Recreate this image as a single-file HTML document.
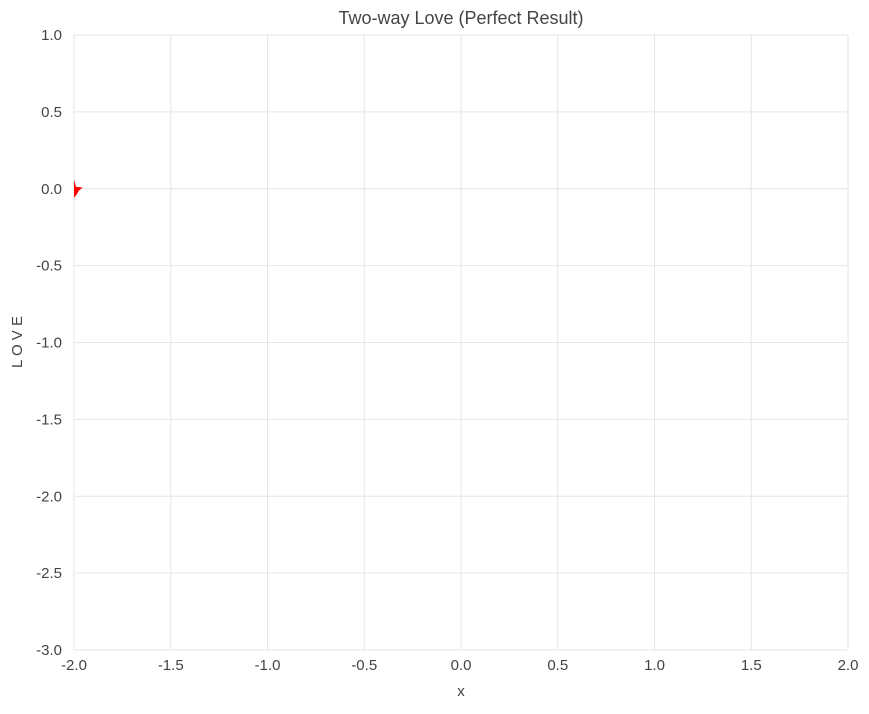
<!DOCTYPE html>
<html><head><meta charset="utf-8"><style>
body{margin:0;background:#fff}
svg text{font-family:"Liberation Sans",sans-serif;fill:#444}
</style></head><body>
<svg id="c" width="869" height="709"></svg>
<script>
const xTicks=[-2.0,-1.5,-1.0,-0.5,0.0,0.5,1.0,1.5,2.0];
const yTicks=[1.0,0.5,0.0,-0.5,-1.0,-1.5,-2.0,-2.5,-3.0];
const heartX=[-2.0,-1.993,-1.99,-1.955,-1.975,-1.985,-2.0];
const heartY=[0.06,0.03,0.012,0.008,-0.012,-0.035,-0.06];
const svg=document.getElementById('c');
const NS='http://www.w3.org/2000/svg';
const X0=74,X1=848,Y0=35,Y1=650;
const sx=v=>X0+(v+2)/4*(X1-X0);
const sy=v=>Y0+(1-v)/4*(Y1-Y0);
function mk(t,a,p){const e=document.createElementNS(NS,t);for(const k in a)e.setAttribute(k,a[k]);(p||svg).appendChild(e);return e;}
xTicks.forEach(v=>{
 const l=mk('line',{x1:sx(v),x2:sx(v),y1:Y0,y2:Y1,stroke:'#e6e6e6'});
 
 
 const t=mk('text',{x:sx(v),y:Y1+20,'text-anchor':'middle','font-size':15});
 t.textContent=v.toFixed(1);
 
 
});
yTicks.forEach(v=>{
 const l=mk('line',{x1:X0,x2:X1,y1:sy(v),y2:sy(v),stroke:'#e6e6e6'});
 
 
 const t=mk('text',{x:X0-12,y:sy(v)+5,'text-anchor':'end','font-size':15});
 t.textContent=v.toFixed(1);
 
 
});
const pts=heartX.map((x,i)=>sx(x)+','+sy(heartY[i])).join(' ');
const h=mk('polygon',{points:pts,fill:'#ff0000'});


const ti=mk('text',{x:461,y:24,'text-anchor':'middle','font-size':18});
ti.textContent='Two-way Love (Perfect Result)';


const xl=mk('text',{x:461,y:696,'text-anchor':'middle','font-size':15});
xl.textContent='x';


const yl=mk('text',{x:0,y:0,'text-anchor':'middle','font-size':15,transform:'translate(22,342) rotate(-90)'});
yl.textContent='L O V E';


</script>
</body></html>
